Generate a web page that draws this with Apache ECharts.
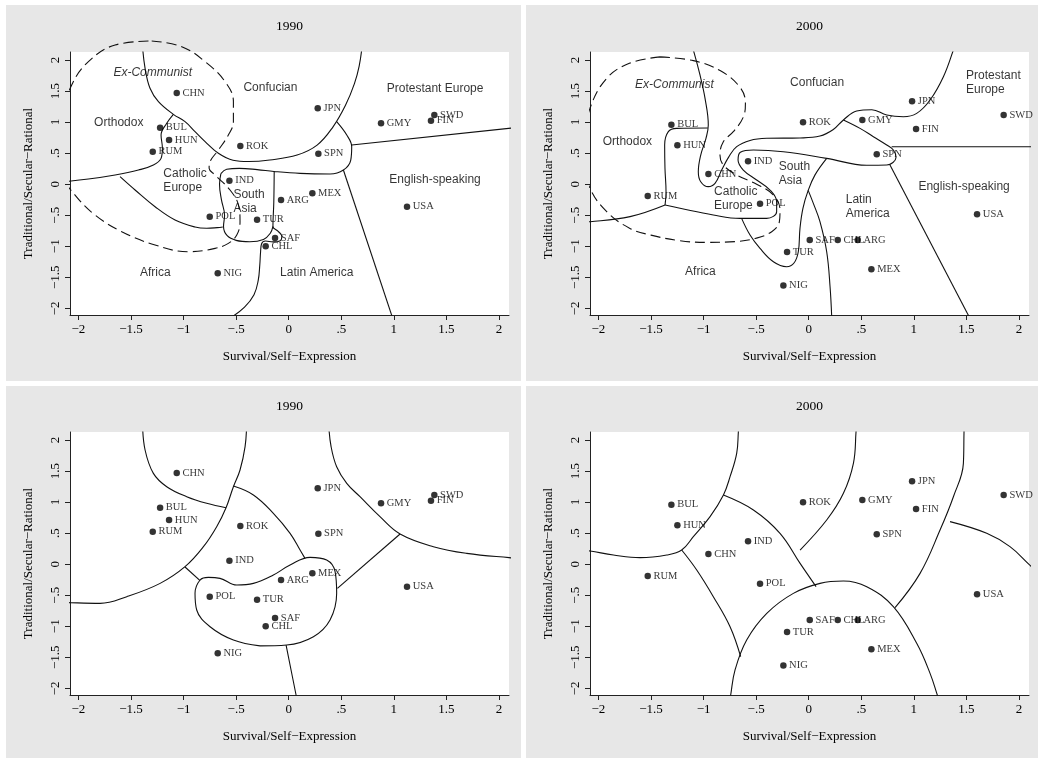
<!DOCTYPE html>
<html>
<head>
<meta charset="utf-8">
<script src="https://cdn.jsdelivr.net/npm/echarts@6/dist/echarts.min.js"></script>
<style>
html, body { margin: 0; padding: 0; background: #fff; }
#chart { width: 1038px; height: 758px; }
</style>
</head>
<body>
<div id="chart"></div>
<script>
// countries, same order in every array
var countries = ['CHN', 'JPN', 'BUL', 'HUN', 'RUM', 'ROK', 'SPN', 'GMY', 'SWD', 'FIN', 'IND', 'MEX', 'ARG', 'USA', 'POL', 'TUR', 'SAF', 'CHL', 'NIG'];
var x1990 = [-1.065, 0.276, -1.223, -1.138, -1.293, -0.460, 0.282, 0.878, 1.385, 1.353, -0.564, 0.225, -0.073, 1.125, -0.751, -0.301, -0.130, -0.219, -0.675];
var y1990 = [1.468, 1.221, 0.910, 0.711, 0.523, 0.615, 0.491, 0.980, 1.114, 1.023, 0.056, -0.148, -0.255, -0.362, -0.523, -0.572, -0.867, -1.001, -1.436];
var x2000 = [-0.954, 0.983, -1.306, -1.249, -1.531, -0.054, 0.647, 0.510, 1.854, 1.021, -0.577, 0.596, 0.466, 1.601, -0.463, -0.206, 0.010, 0.276, -0.241];
var y2000 = [0.164, 1.334, 0.958, 0.626, -0.191, 0.996, 0.481, 1.034, 1.114, 0.889, 0.368, -1.372, -0.899, -0.486, -0.314, -1.093, -0.899, -0.899, -1.630];

var ticks = [-2, -1.5, -1, -0.5, 0, 0.5, 1, 1.5, 2];
var years = ['1990', '2000', '1990', '2000'];

// zone names: [left x, middle y, text]
var zones1990 = [
    [-1.667, 1.796, 'Ex-Communist'],
    [-0.431, 1.560, 'Confucian'],
    [0.932, 1.544, 'Protestant Europe'],
    [-1.851, 0.991, 'Orthodox'],
    [-1.192, 0.056, 'Catholic\nEurope'],
    [-0.526, -0.287, 'South\nAsia'],
    [0.957, 0.067, 'English-speaking'],
    [-1.414, -1.425, 'Africa'],
    [-0.082, -1.425, 'Latin America']
];
var zones2000 = [
    [-1.651, 1.597, 'Ex-Communist'],
    [-0.177, 1.635, 'Confucian'],
    [1.496, 1.635, 'Protestant\nEurope'],
    [-1.959, 0.679, 'Orthodox'],
    [-0.900, -0.239, 'Catholic\nEurope'],
    [-0.285, 0.164, 'South\nAsia'],
    [0.352, -0.362, 'Latin\nAmerica'],
    [1.043, -0.040, 'English-speaking'],
    [-1.176, -1.409, 'Africa']
];

// zone boundaries, top 1990 panel
var exComm1990 = [[-1.303, 2.306], [-1.017, 2.215], [-0.795, 1.973], [-0.605, 1.651], [-0.526, 1.329], [-0.526, 1.007], [-0.574, 0.792], [-0.669, 0.550], [-0.748, 0.362], [-0.757, 0.255], [-0.700, 0.148], [-0.558, -0.094], [-0.478, -0.336], [-0.463, -0.604], [-0.494, -0.819], [-0.574, -0.953], [-0.700, -1.034], [-0.954, -1.088], [-1.271, -0.980], [-1.588, -0.765], [-1.842, -0.497], [-2.032, -0.175], [-2.159, 0.148], [-2.190, 0.577], [-2.159, 1.061], [-2.064, 1.598], [-1.905, 1.973], [-1.651, 2.242], [-1.303, 2.306]];
var confucian1990 = [[-1.392, 2.25], [-1.366, 1.866], [-1.319, 1.544], [-1.239, 1.329], [-1.097, 1.125], [-0.986, 1.007], [-0.891, 0.846], [-0.795, 0.685], [-0.669, 0.497], [-0.530, 0.385], [-0.383, 0.365], [-0.180, 0.390], [0.080, 0.470], [0.270, 0.630], [0.420, 0.920], [0.540, 1.270], [0.625, 1.620], [0.670, 1.900], [0.700, 2.25]];
var orthodox1990 = [[-1.097, 1.125], [-1.160, 0.980], [-1.214, 0.792], [-1.201, 0.577], [-1.214, 0.416], [-1.287, 0.309], [-1.429, 0.228], [-1.651, 0.148], [-1.905, 0.083], [-2.2, 0.03]];
var catholic1990 = [[-1.604, 0.121], [-1.461, -0.094], [-1.271, -0.363], [-1.081, -0.577], [-0.891, -0.690], [-0.780, -0.710], [-0.680, -0.700], [-0.627, -0.690]];
var topLine1990 = [[-0.645, 0.170], [-0.590, 0.240], [-0.470, 0.255], [-0.300, 0.235], [-0.140, 0.205], [0.108, 0.174], [0.393, 0.164], [0.520, 0.228], [0.590, 0.389], [0.599, 0.604], [0.552, 0.792], [0.456, 1.007]];
var southAsia1990 = [[-0.645, 0.170], [-0.658, 0.0], [-0.640, -0.250], [-0.610, -0.500], [-0.620, -0.680], [-0.585, -0.830], [-0.500, -0.905], [-0.370, -0.928], [-0.240, -0.890], [-0.175, -0.790], [-0.150, -0.680]];
var latin1990 = [[-0.138, 0.205], [-0.142, -0.300], [-0.150, -0.680], [-0.100, -0.760], [-0.065, -0.840], [-0.080, -0.910], [-0.150, -0.930], [-0.220, -0.915], [-0.258, -0.960], [-0.268, -1.100], [-0.275, -1.300], [-0.290, -1.550], [-0.330, -1.780], [-0.420, -1.980], [-0.550, -2.15]];
var protEng1990 = [[0.599, 0.631], [2.2, 0.918]];
var engLat1990 = [[0.520, 0.228], [0.987, -2.15]];

// zone boundaries, top 2000 panel
var exComm2000 = [[-1.414, 2.050], [-1.097, 1.990], [-0.843, 1.830], [-0.653, 1.560], [-0.602, 1.300], [-0.622, 1.080], [-0.717, 0.846], [-0.812, 0.685], [-0.844, 0.470], [-0.812, 0.309], [-0.685, 0.148], [-0.495, 0.0], [-0.337, -0.175], [-0.273, -0.416], [-0.279, -0.604], [-0.352, -0.765], [-0.500, -0.870], [-0.700, -0.925], [-0.970, -0.937], [-1.230, -0.910], [-1.500, -0.820], [-1.700, -0.712], [-1.921, -0.443], [-2.080, -0.067], [-2.143, 0.362], [-2.140, 0.680], [-2.080, 1.222], [-1.921, 1.705], [-1.700, 1.950], [-1.414, 2.050]];
var confucian2000 = [[-1.115, 2.25], [-1.097, 2.160], [-1.034, 1.759], [-0.986, 1.383], [-0.955, 0.953], [-0.977, 0.738], [-1.027, 0.470], [-1.050, 0.201], [-1.027, 0.040], [-0.955, -0.040], [-0.891, 0.013], [-0.828, 0.228], [-0.760, 0.440], [-0.685, 0.604], [-0.558, 0.705], [-0.399, 0.739], [-0.083, 0.745], [0.107, 0.775], [0.234, 0.880], [0.330, 1.034], [0.456, 1.180], [0.600, 1.200], [0.742, 1.114], [0.900, 1.087], [1.027, 1.141], [1.154, 1.356], [1.281, 1.732], [1.376, 2.161], [1.392, 2.25]];
var orthodox2000 = [[-0.960, 0.905], [-1.256, 0.899], [-1.335, 0.846], [-1.370, 0.631], [-1.367, 0.255], [-1.357, -0.121], [-1.366, -0.336]];
var orthAfr2000 = [[-1.366, -0.336], [-1.699, -0.523], [-2.079, -0.604], [-2.2, -0.612]];
var catholic2000 = [[-1.366, -0.336], [-1.224, -0.389], [-0.907, -0.497], [-0.653, -0.551], [-0.400, -0.551], [-0.305, -0.443], [-0.305, -0.282], [-0.368, -0.094], [-0.495, 0.067], [-0.622, 0.228], [-0.672, 0.389], [-0.650, 0.515], [-0.526, 0.551], [-0.241, 0.523], [0.171, 0.416], [0.551, 0.305], [0.742, 0.309], [0.830, 0.430], [0.805, 0.550], [0.742, 0.631], [0.615, 0.765], [0.488, 0.899], [0.330, 1.034]];
var southAsia2000 = [[0.171, 0.416], [0.060, 0.150], [-0.005, -0.100], [-0.055, -0.389], [-0.083, -0.712], [-0.099, -1.088], [-0.140, -1.270], [-0.210, -1.329], [-0.336, -1.249], [-0.463, -1.034], [-0.558, -0.819], [-0.638, -0.551]];
var latAfr2000 = [[-0.005, -0.100], [0.044, -0.309], [0.107, -0.604], [0.171, -1.088], [0.203, -1.651], [0.219, -2.15]];
var protEng2000 = [[0.789, 0.604], [2.2, 0.604]];
var engLat2000 = [[0.773, 0.309], [1.530, -2.15]];

// cluster boundaries, bottom 1990 panel
var cl1990a = [[-1.390, 2.25], [-1.366, 1.839], [-1.287, 1.463], [-1.160, 1.248], [-0.970, 1.087], [-0.780, 0.980], [-0.596, 0.910]];
var cl1990b = [[-0.400, 2.25], [-0.415, 1.893], [-0.463, 1.517], [-0.526, 1.248], [-0.596, 0.910], [-0.685, 0.604], [-0.811, 0.282], [-0.986, -0.040], [-1.223, -0.309], [-1.540, -0.523], [-1.794, -0.631], [-2.079, -0.620], [-2.2, -0.610]];
var cl1990c = [[-0.526, 1.258], [-0.336, 1.114], [-0.146, 0.819], [0.013, 0.497], [0.108, 0.228], [0.155, 0.094]];
var cl1990d = [[-0.986, -0.045], [-0.843, -0.265]];
var cl1990loop = [[-0.273, -1.316], [-0.019, -1.302], [0.235, -1.168], [0.393, -0.899], [0.456, -0.470], [0.441, -0.121], [0.361, 0.067], [0.203, 0.110], [0.013, -0.013], [-0.146, -0.174], [-0.336, -0.309], [-0.494, -0.336], [-0.653, -0.228], [-0.764, -0.212], [-0.843, -0.255], [-0.891, -0.470], [-0.875, -0.738], [-0.748, -1.007], [-0.526, -1.221], [-0.273, -1.316]];
var cl1990f = [[-0.025, -1.302], [0.070, -2.107], [0.076, -2.15]];
var cl1990g = [[0.463, -0.389], [1.059, 0.486]];
var cl1990h = [[0.380, 2.25], [0.403, 1.893], [0.456, 1.570], [0.552, 1.302], [0.678, 1.087], [0.868, 0.765], [1.059, 0.486], [1.376, 0.282], [1.693, 0.174], [2.095, 0.105], [2.2, 0.095]];

// cluster boundaries, bottom 2000 panel
var cl2000a = [[-0.665, 2.25], [-0.669, 2.134], [-0.685, 1.785], [-0.748, 1.409], [-0.811, 1.114], [-0.938, 0.765], [-1.097, 0.443], [-1.208, 0.228], [-1.350, 0.148], [-1.604, 0.105], [-1.857, 0.148], [-2.079, 0.212], [-2.2, 0.235]];
var cl2000b = [[-0.811, 1.114], [-0.526, 0.873], [-0.273, 0.497], [-0.082, 0.013], [0.070, -0.362]];
var cl2000c = [[-1.208, 0.228], [-1.065, -0.094], [-0.907, -0.523], [-0.748, -1.007], [-0.647, -1.490]];
var cl2000d = [[-0.745, -2.15], [-0.742, -2.107], [-0.701, -1.705], [-0.590, -1.221], [-0.399, -0.792], [-0.146, -0.470], [0.108, -0.309], [0.330, -0.271], [0.552, -0.362], [0.805, -0.685], [1.027, -1.275], [1.154, -1.758], [1.223, -2.107], [1.230, -2.15]];
var cl2000e = [[0.452, 2.25], [0.450, 2.134], [0.425, 1.624], [0.330, 1.141], [0.171, 0.711], [-0.082, 0.228]];
var cl2000f = [[1.480, 2.25], [1.477, 2.134], [1.471, 1.624], [1.376, 1.087], [1.249, 0.550], [1.059, -0.148], [0.821, -0.701]];
var cl2000g = [[1.344, 0.685], [1.693, 0.497], [1.914, 0.282], [2.095, -0.003], [2.16, -0.1]];

var SERIF = '"Liberation Serif", "Times New Roman", serif';
var SANS = '"Liberation Sans", Arial, sans-serif';

// panel offsets: top-left, top-right, bottom-left, bottom-right
var panels = [[0, 0], [520, 0], [0, 380], [520, 380]];

function fmt(v) {
    if (v == 0) return '0';
    var s = Math.abs(v).toString().replace(/^0\./, '.');
    return (v < 0 ? '\u2212' : '') + s;
}

function points(xs, ys) {
    var list = [];
    for (var i = 0; i < countries.length; i++) {
        list.push({ name: countries[i], value: [xs[i], ys[i]] });
    }
    return list;
}

function curve(gi, pts, dashed) {
    return {
        type: 'line', xAxisIndex: gi, yAxisIndex: gi, data: pts,
        smooth: 0.4, symbol: 'none', silent: true, clip: !dashed, z: 2,
        lineStyle: { color: '#111', width: 1.1, type: dashed ? [10, 5] : 'solid' }
    };
}

function zoneLabels(gi, zones) {
    return {
        type: 'scatter', xAxisIndex: gi, yAxisIndex: gi, symbolSize: 0, silent: true, z: 4,
        data: zones.map(function (z) {
            return {
                value: [z[0], z[1]], name: z[2],
                label: { fontStyle: z[2] == 'Ex-Communist' ? 'italic' : 'normal' }
            };
        }),
        label: {
            show: true, position: 'right', distance: 0, formatter: '{b}',
            fontFamily: SANS, fontSize: 12, lineHeight: 14, color: '#000', align: 'left'
        }
    };
}

function dots(gi, xs, ys) {
    return {
        type: 'scatter', xAxisIndex: gi, yAxisIndex: gi, data: points(xs, ys),
        symbol: 'circle', symbolSize: 6.5, z: 3,
        itemStyle: { color: '#000' },
        label: {
            show: true, position: 'right', distance: 2.5, formatter: '{b}',
            fontFamily: SERIF, fontSize: 10.5, color: '#000'
        }
    };
}

var grids = [], xAxes = [], yAxes = [], graphics = [];
panels.forEach(function (p, i) {
    var ox = p[0], oy = p[1];
    graphics.push({
        type: 'rect', z: -100, silent: true,
        shape: { x: ox + 6, y: oy + (oy ? 6 : 5), width: 515, height: oy ? 372 : 376 },
        style: { fill: '#e7e7e7' }
    });
    graphics.push({
        type: 'text', x: ox + 289.5, y: oy + 26, silent: true,
        style: { text: years[i], fill: '#000', font: '13.5px ' + SERIF, align: 'center', verticalAlign: 'middle' }
    });
    grids.push({ left: ox + 70, top: oy + 52, width: 439, height: 263, show: true, backgroundColor: '#fff', borderWidth: 0 });
    xAxes.push({
        gridIndex: i, type: 'value', min: -2.08, max: 2.095,
        axisLine: { show: true, onZero: false, lineStyle: { color: '#222', width: 1 } },
        axisTick: { show: true, length: 5, customValues: ticks, lineStyle: { color: '#222' } },
        axisLabel: { customValues: ticks, formatter: fmt, fontFamily: SERIF, fontSize: 13, color: '#000', margin: 8.5 },
        splitLine: { show: false },
        name: 'Survival/Self\u2212Expression', nameLocation: 'middle', nameGap: 35.5,
        nameTextStyle: { fontFamily: SERIF, fontSize: 13, color: '#000' }
    });
    yAxes.push({
        gridIndex: i, type: 'value', min: -2.107, max: 2.129,
        axisLine: { show: true, onZero: false, lineStyle: { color: '#222', width: 1 } },
        axisTick: { show: true, length: 5, customValues: ticks, lineStyle: { color: '#222' } },
        axisLabel: { customValues: ticks, formatter: fmt, rotate: 90, fontFamily: SERIF, fontSize: 13, color: '#000', margin: 8 },
        splitLine: { show: false },
        name: 'Traditional/Secular\u2212Rational', nameLocation: 'middle', nameGap: 35,
        nameTextStyle: { fontFamily: SERIF, fontSize: 13, color: '#000' }
    });
});

var series = [
    curve(0, exComm1990, true), curve(0, confucian1990), curve(0, orthodox1990), curve(0, catholic1990),
    curve(0, topLine1990), curve(0, southAsia1990), curve(0, latin1990), curve(0, protEng1990), curve(0, engLat1990),
    zoneLabels(0, zones1990), dots(0, x1990, y1990),

    curve(1, exComm2000, true), curve(1, confucian2000), curve(1, orthodox2000), curve(1, orthAfr2000),
    curve(1, catholic2000), curve(1, southAsia2000), curve(1, latAfr2000), curve(1, protEng2000), curve(1, engLat2000),
    zoneLabels(1, zones2000), dots(1, x2000, y2000),

    curve(2, cl1990a), curve(2, cl1990b), curve(2, cl1990c), curve(2, cl1990d), curve(2, cl1990loop),
    curve(2, cl1990f), curve(2, cl1990g), curve(2, cl1990h),
    dots(2, x1990, y1990),

    curve(3, cl2000a), curve(3, cl2000b), curve(3, cl2000c), curve(3, cl2000d), curve(3, cl2000e),
    curve(3, cl2000f), curve(3, cl2000g),
    dots(3, x2000, y2000)
];

var chart = echarts.init(document.getElementById('chart'), null, { renderer: 'canvas' });
chart.setOption({
    animation: false,
    backgroundColor: '#fff',
    graphic: { elements: graphics },
    grid: grids,
    xAxis: xAxes,
    yAxis: yAxes,
    series: series
});
</script>
</body>
</html>
